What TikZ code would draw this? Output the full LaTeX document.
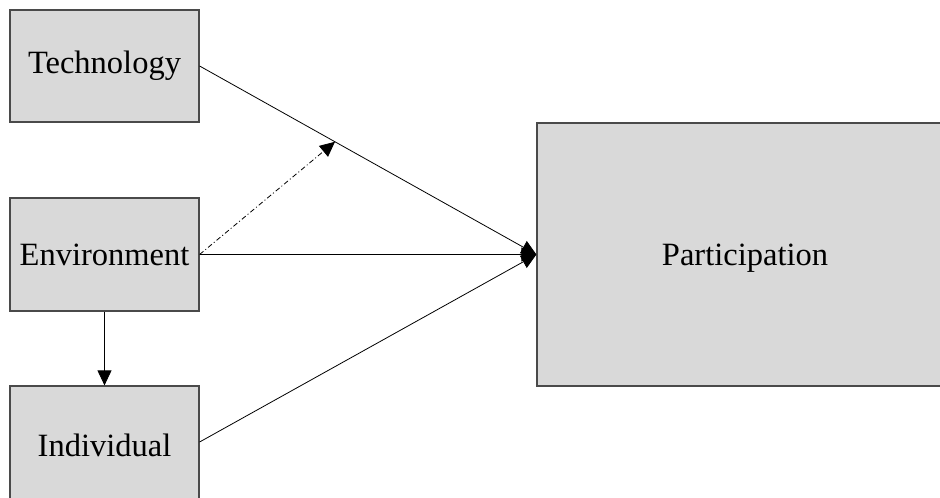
\documentclass[tikz,border=0pt]{standalone}
\usepackage{fontspec}
\setmainfont{Liberation Serif}
\usetikzlibrary{arrows.meta,calc}
\definecolor{boxfill}{HTML}{D9D9D9}
\definecolor{boxline}{HTML}{4A4A4A}
\newcommand{\factorlabel}[1]{\raisebox{-3.5pt}{#1}}
\tikzset{
  factor/.style={draw=boxline, line width=1.2pt, fill=boxfill, inner sep=0pt,
    font=\fontsize{32.5}{37}\selectfont, text=black},
  link/.style={draw=black, line width=0.8pt, -{Triangle[length=15pt,width=14pt]}},
  moderate/.style={link, dash pattern=on 5pt off 2.5pt on 1pt off 2.5pt}
}
\begin{document}
\begin{tikzpicture}[x=1pt,y=-1pt]
  \useasboundingbox (0,0) rectangle (940,498);
  \clip (0,0) rectangle (940,498);
  % factor boxes
  \node[factor, minimum width=189pt, minimum height=112pt] (tech) at (104.5,66) {\factorlabel{Technology}};
  \node[factor, minimum width=189pt, minimum height=113pt] (env) at (104.5,254.5) {\factorlabel{Environment}};
  \node[factor, minimum width=189pt, minimum height=124pt] (ind) at (104.5,448) {};
  \node[font=\fontsize{32.5}{37}\selectfont] (indlabel) at (104.5,445.5) {Individual};
  \node[factor, minimum width=414pt, minimum height=263pt] (part) at (744,254.5) {};
  \node[font=\fontsize{32.5}{37}\selectfont] (partlabel) at (745,258) {Participation};
  % connectors
  \coordinate (indport) at (ind.north east |- 0,442);
  \coordinate (mod) at ($(tech.east)!0.402!(part.west)$);
  \draw[link] (tech.east) -- (part.west);
  \draw[link] (env.east) -- (part.west);
  \draw[link] (indport) -- (part.west);
  \draw[link] (env.south) -- (ind.north);
  \draw[moderate] (env.east) -- (mod);
\end{tikzpicture}
\end{document}
